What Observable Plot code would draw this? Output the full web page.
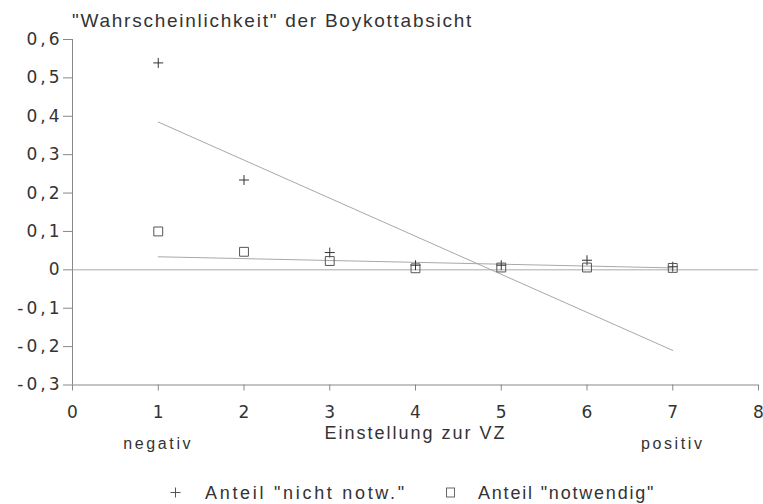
<!DOCTYPE html>
<html>
<head>
<meta charset="utf-8">
<script src="https://cdn.jsdelivr.net/npm/d3@7"></script>
<script src="https://cdn.jsdelivr.net/npm/@observablehq/plot@0.6"></script>
<style>
  body { margin: 0; background: #fff; font-family: "Liberation Sans", Arial, sans-serif; color: #333; }
  #wrap { position: relative; width: 763px; height: 504px; overflow: hidden; }
  #title { position: absolute; left: 72px; top: 11px; font-size: 19px; line-height: 19px; letter-spacing: 1.75px; white-space: nowrap; color: #333; }
  .leg { position: absolute; top: 484px; font-size: 18px; line-height: 18px; white-space: nowrap; color: #333; }
  .sym { position: absolute; }
  #chart svg { position: absolute; left: 0; top: 0; }
</style>
</head>
<body>
<div id="wrap">
  <div id="chart"></div>
  <div id="title"></div>
  <div id="legend"></div>
</div>
<script>
// ---- data ----
const einstellung = [1, 2, 3, 4, 5, 6, 7];
const anteilNichtNotw = [0.539, 0.234, 0.045, 0.012, 0.012, 0.025, 0.008];
const anteilNotwendig = [0.100, 0.047, 0.023, 0.004, 0.006, 0.006, 0.005];
const trendX = [1, 7];
const trendNichtNotw = [0.385, -0.21];
const trendNotwendig = [0.034, 0.005];
const xTicks = [0, 1, 2, 3, 4, 5, 6, 7, 8];
const yTicks = [-0.3, -0.2, -0.1, 0, 0.1, 0.2, 0.3, 0.4, 0.5, 0.6];
const titleText = "\"Wahrscheinlichkeit\" der Boykottabsicht";
const xLabel = "Einstellung zur VZ";
const xLabelAt = [4];
const endLabels = ["negativ", "positiv"];
const endLabelAt = [1, 7];
const seriesNames = ["Anteil \"nicht notw.\"", "Anteil \"notwendig\""];

// ---- tables built from the arrays ----
const nicht = einstellung.map((x, i) => ({x, y: anteilNichtNotw[i]}));
const notw = einstellung.map((x, i) => ({x, y: anteilNotwendig[i]}));
const trendA = trendX.map((x, i) => ({x, y: trendNichtNotw[i]}));
const trendB = trendX.map((x, i) => ({x, y: trendNotwendig[i]}));
const xDomain = [d3.min(xTicks), d3.max(xTicks)];
const yDomain = [d3.min(yTicks), d3.max(yTicks)];
const fmt = d => d === 0 ? "0" : d.toFixed(1).replace(".", ",");

const plot = Plot.plot({
  width: 763,
  height: 504,
  marginLeft: 72,
  marginRight: 5,
  marginTop: 39,
  marginBottom: 119.5,
  style: {fontFamily: "'Liberation Sans', Arial, sans-serif", fontSize: "18px", color: "#333", background: "transparent"},
  x: {domain: xDomain},
  y: {domain: yDomain},
  marks: [
    Plot.ruleY([0], {stroke: "#aaa", strokeWidth: 1}),
    Plot.ruleY([yDomain[0]], {stroke: "#888", strokeWidth: 1}),
    Plot.ruleX([xDomain[0]], {stroke: "#888", strokeWidth: 1}),
    Plot.axisY({ticks: yTicks, tickSize: 9, tickPadding: 1, tickFormat: fmt, label: null, fontSize: 17, stroke: "#888", fill: "#333"}),
    Plot.axisX({ticks: xTicks, tickSize: 6, tickPadding: 15, tickFormat: d => String(d), label: null, fontSize: 17, stroke: "#888", fill: "#333"}),
    Plot.line(trendA, {x: "x", y: "y", stroke: "#a8a8a8", strokeWidth: 1}),
    Plot.line(trendB, {x: "x", y: "y", stroke: "#a8a8a8", strokeWidth: 1}),
    Plot.dot(nicht, {x: "x", y: "y", symbol: "plus", r: 3.3, stroke: "#333", strokeWidth: 1}),
    Plot.dot(notw, {x: "x", y: "y", symbol: "square", r: 5, fill: "none", stroke: "#555", strokeWidth: 1}),
    Plot.text(xLabelAt, {x: d => d, y: () => yDomain[0], text: () => xLabel, dy: 48, fontSize: 18, fill: "#333"}),
    Plot.text(endLabelAt, {x: d => d, y: () => yDomain[0], text: (d, i) => endLabels[i], dy: 58.5, fontSize: 16, fill: "#333"})
  ]
});
document.getElementById("chart").appendChild(plot);
document.getElementById("title").textContent = titleText;

// ---- text styling (letter spacing like the original print) ----
const svg = d3.select(plot);
svg.selectAll("text").each(function() {
  const t = this.textContent;
  const s = d3.select(this);
  if (t === xLabel) s.style("letter-spacing", "2px");
  else if (endLabels.includes(t)) s.style("letter-spacing", "2.6px");
});
svg.selectAll('g[aria-label="y-axis tick label"] text')
  .style("letter-spacing", "3px").style("font-family", "'DejaVu Sans', sans-serif");
svg.selectAll('g[aria-label="x-axis tick label"] text')
  .style("font-family", "'DejaVu Sans', sans-serif");

// ---- legend (HTML below the plot area) ----
const legend = document.getElementById("legend");
const symPlus = `<svg class="sym" style="left:170px;top:487px" width="11" height="11"><path d="M5.5 0.5V10.5M0.5 5.5H10.5" stroke="#555" stroke-width="1"/></svg>`;
const symSq = `<svg class="sym" style="left:445px;top:487px" width="11" height="11"><rect x="1.5" y="1" width="8" height="9" fill="none" stroke="#666" stroke-width="1"/></svg>`;
legend.innerHTML = symPlus +
  `<div class="leg" style="left:205px;letter-spacing:2.7px">${seriesNames[0]}</div>` +
  symSq +
  `<div class="leg" style="left:478px;letter-spacing:1.8px">${seriesNames[1]}</div>`;
</script>
</body>
</html>
